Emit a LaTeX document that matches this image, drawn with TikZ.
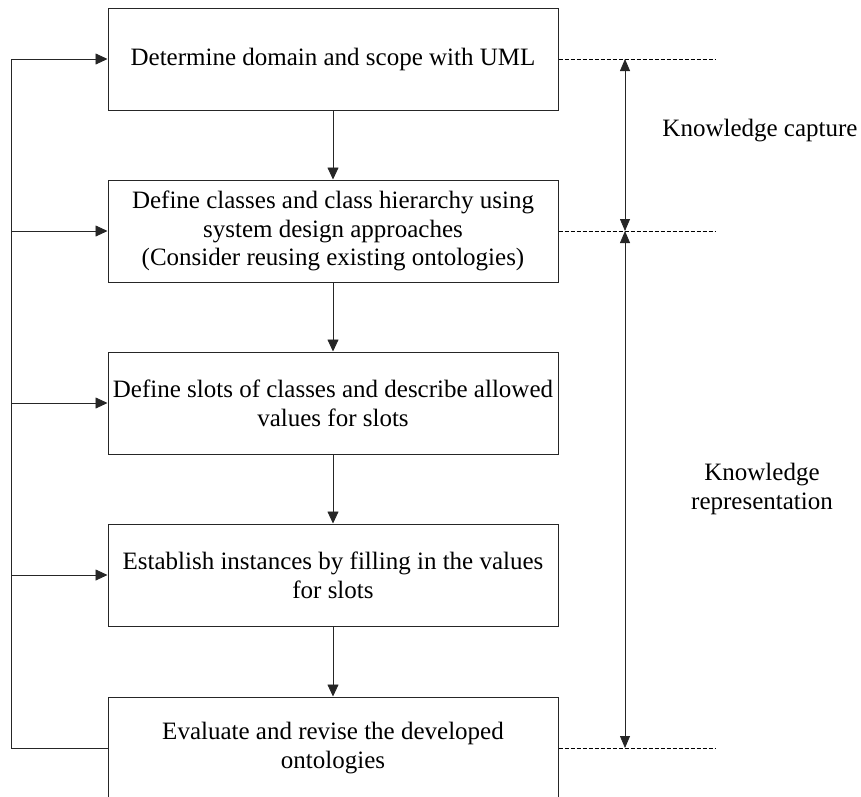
\documentclass[tikz,border=0pt]{standalone}
\usepackage{fontspec}
\setmainfont{Liberation Serif}
\usetikzlibrary{arrows.meta}
\begin{document}
\begin{tikzpicture}[x=1pt,y=-1pt,
  stepbox/.style={draw=black!85,line width=1pt,minimum width=450pt,minimum height=102pt,
    align=center,inner sep=0pt,font=\fontsize{25}{28.7}\selectfont},
  conn/.style={draw=black!85,line width=0.8pt,-{Triangle[length=12pt,width=11pt]}},
  dbl/.style={draw=black!85,line width=0.8pt,{Triangle[length=12pt,width=10pt]}-{Triangle[length=12pt,width=10pt]}},
  guide/.style={draw=black,line width=0.8pt,dash pattern=on 4pt off 2pt},
  lbl/.style={align=center,font=\fontsize{25}{29}\selectfont}]
\useasboundingbox (0,0) rectangle (861,796);
\begin{scope}
\clip (0,0) rectangle (861,796);
\node[stepbox] (b1) at (333,59) {\raisebox{-1.5pt}{Determine domain and scope with UML}};
\node[stepbox] (b2) at (333,231) {Define classes and class hierarchy using\\system design approaches\\(Consider reusing existing ontologies)};
\node[stepbox] (b3) at (333,403) {Define slots of classes and describe allowed\\values for slots};
\node[stepbox] (b4) at (333,575) {Establish instances by filling in the values\\for slots};
\node[stepbox] (b5) at (333,748) {Evaluate and revise the developed\\ontologies};
\end{scope}
\draw[conn] (b1) -- (b2);
\draw[conn] (b2) -- (b3);
\draw[conn] (b3) -- (b4);
\draw[conn] (b4) -- (b5);
\coordinate (lb) at (11,748);
\coordinate (lt) at (11,59);
\draw[draw=black!85,line width=0.8pt] (b5.west) -- (lb) -- (lt);
\draw[conn] (lt) -- (b1.west);
\draw[conn] (11,231) -- (b2.west);
\draw[conn] (11,403) -- (b3.west);
\draw[conn] (11,575) -- (b4.west);
\coordinate (d1) at (715,59);
\coordinate (d2) at (715,231);
\coordinate (d3) at (715,748);
\draw[guide] (b1.east) -- (d1);
\draw[guide] (b2.east) -- (d2);
\draw[guide] (b5.east) -- (d3);
\coordinate (v1) at (625,59);
\coordinate (v2) at (625,231);
\coordinate (v3) at (625,748);
\draw[dbl] (v1) -- (v2);
\draw[dbl] (v2) -- (v3);
\node[lbl] (kc) at (760,131) {Knowledge capture};
\node[lbl] (kr) at (762,489) {Knowledge\\representation};
\end{tikzpicture}
\end{document}
